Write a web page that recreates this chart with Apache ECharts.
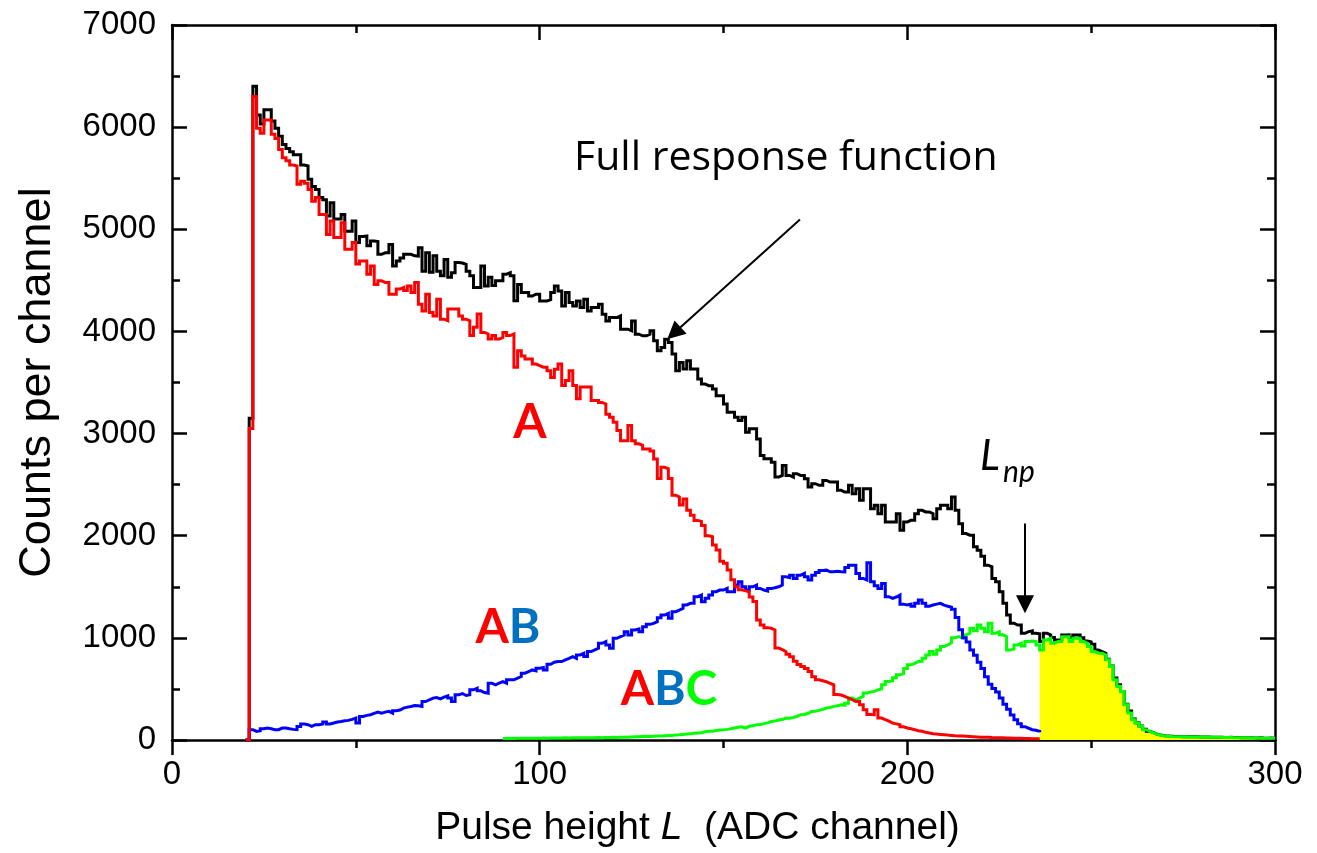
<!DOCTYPE html>
<html>
<head>
<meta charset="utf-8">
<script src="https://cdn.jsdelivr.net/npm/echarts/dist/echarts.min.js"></script>
<style>
  html, body { margin: 0; padding: 0; background: #fff; }
  #chart { width: 1317px; height: 853px; }
</style>
</head>
<body>
<div id="chart"></div>
<script>
// Pulse-height spectra, one count value per ADC channel.
// Full response and its A / AB components start at channel 20.
const firstChannel = 20;

const fullResponse = [
  0, 3150, 6400, 6120, 6030, 6170, 6170, 6060, 5990, 5910,
  5830, 5790, 5760, 5730, 5730, 5630, 5620, 5490, 5420, 5390,
  5310, 5290, 5130, 5260, 5100, 5100, 5145, 4980, 4980, 5080,
  4870, 4930, 4935, 4840, 4885, 4880, 4755, 4770, 4770, 4850,
  4640, 4690, 4720, 4755, 4755, 4740, 4738, 4820, 4590, 4770,
  4580, 4740, 4590, 4545, 4705, 4530, 4575, 4675, 4670, 4657,
  4590, 4545, 4430, 4430, 4640, 4445, 4530, 4450, 4495, 4495,
  4560, 4575, 4545, 4300, 4460, 4380, 4380, 4347, 4364, 4364,
  4299, 4299, 4310, 4380, 4445, 4396, 4250, 4380, 4282, 4250,
  4299, 4234, 4315, 4201, 4234, 4234, 4266, 4168, 4103, 4136,
  4136, 4152, 4022, 4022, 4006, 4103, 3973, 3957, 3957, 3973,
  4006, 3908, 3811, 3843, 3924, 3892, 3778, 3615, 3697, 3632,
  3713, 3632, 3632, 3534, 3485, 3469, 3469, 3436, 3371, 3371,
  3290, 3208, 3208, 3160, 3127, 3160, 3013, 3046, 3046, 2948,
  2786, 2753, 2753, 2720, 2574, 2590, 2688, 2590, 2574, 2607,
  2590, 2590, 2558, 2476, 2509, 2493, 2493, 2541, 2525, 2525,
  2525, 2444, 2428, 2428, 2493, 2411, 2460, 2346, 2460, 2460,
  2265, 2298, 2216, 2298, 2135, 2135, 2135, 2216, 2053, 2135,
  2151, 2151, 2216, 2249, 2233, 2233, 2216, 2167, 2265, 2298,
  2298, 2265, 2379, 2249, 2118, 2021, 2005, 2005, 1891, 1858,
  1800, 1712, 1696, 1582, 1549, 1452, 1338, 1224, 1143, 1126,
  1126, 1045, 1061, 1068, 1045, 1040, 964, 1045, 1029, 1003,
  980, 980, 1029, 1030, 1000, 1029, 1029, 1000, 970, 960,
  938, 880, 866, 850, 790, 725, 606, 541, 476, 350,
  285, 205, 170, 138, 105, 85, 72, 56, 48, 42,
  38, 36, 34, 35, 33, 34, 32, 31, 32, 30,
  29, 30, 28, 27, 28, 26, 25, 26, 24, 25,
  23, 22, 23, 21, 20, 21, 19, 18, 19, 17
];

const countsA = [
  0, 3050, 6300, 5990, 5940, 6070, 6070, 5930, 5890, 5780,
  5700, 5670, 5630, 5620, 5440, 5470, 5450, 5390, 5275, 5310,
  5145, 5145, 4950, 5080, 4920, 4920, 5065, 4805, 4805, 4870,
  4660, 4690, 4690, 4560, 4640, 4460, 4495, 4480, 4480, 4365,
  4365, 4415, 4430, 4400, 4445, 4380, 4480, 4265, 4200, 4365,
  4185, 4150, 4315, 4120, 4105, 4220, 4220, 4220, 4150, 4120,
  4105, 3960, 4040, 4170, 3990, 3975, 3925, 3960, 3925, 3940,
  3990, 3960, 3975, 3650, 3810, 3760, 3730, 3730, 3680, 3665,
  3650, 3650, 3615, 3550, 3630, 3680, 3470, 3520, 3615, 3470,
  3340, 3455, 3455, 3455, 3325, 3325, 3305, 3290, 3190, 3160,
  3110, 3030, 2930, 2930, 3080, 2930, 2900, 2885, 2850, 2850,
  2830, 2750, 2560, 2670, 2655, 2560, 2395, 2380, 2300, 2360,
  2250, 2200, 2150, 2140, 2100, 2000, 1990, 1910, 1860, 1750,
  1730, 1665, 1570, 1500, 1470, 1460, 1450, 1400, 1355, 1175,
  1125, 1100, 1094, 1078, 900, 885, 866, 840, 815, 770,
  740, 720, 700, 670, 620, 590, 580, 570, 555, 540,
  445, 440, 427, 411, 395, 378, 378, 345, 297, 250,
  248, 297, 215, 200, 185, 166, 158, 150, 130, 118,
  110, 101, 90, 85, 75, 69, 62, 58, 55, 52,
  48, 45, 42, 40, 38, 36, 34, 32, 30, 28,
  27, 26, 24, 23, 22, 21, 20, 19, 18, 17,
  16, 15, 14, 13, 12, 12, 11
];

const countsAB = [
  0, 101, 84, 90, 110, 117, 110, 101, 101, 117,
  117, 110, 104, 101, 133, 156, 150, 133, 150, 150,
  156, 176, 156, 166, 176, 182, 189, 192, 202, 215,
  166, 231, 241, 247, 260, 273, 263, 273, 280, 263,
  286, 293, 312, 322, 328, 338, 335, 328, 377, 394,
  410, 416, 403, 420, 433, 410, 377, 442, 455, 436,
  442, 491, 507, 481, 465, 459, 556, 540, 556, 572,
  556, 589, 589, 605, 621, 654, 670, 686, 677, 703,
  709, 686, 742, 761, 768, 768, 784, 800, 817, 800,
  833, 849, 817, 866, 882, 898, 947, 963, 931, 898,
  996, 1012, 1028, 1061, 1028, 1077, 1087, 1061, 1109, 1132,
  1142, 1158, 1197, 1223, 1240, 1191, 1256, 1272,
  1289, 1322, 1338, 1338, 1403, 1419, 1354, 1387, 1419, 1452,
  1468, 1468, 1484, 1452, 1452, 1517, 1549, 1500, 1468, 1500,
  1517, 1484, 1468, 1458, 1484, 1490, 1500, 1517, 1598, 1590,
  1614, 1582, 1614, 1631, 1598, 1566, 1614, 1640, 1660, 1663,
  1647, 1647, 1653, 1647, 1645, 1690, 1712, 1712, 1631, 1582,
  1566, 1735, 1549, 1510, 1484, 1533, 1403, 1387, 1400, 1419,
  1330, 1322, 1330, 1310, 1340, 1370, 1338, 1310, 1322, 1330,
  1338, 1321, 1310, 1300, 1280, 1200, 1080, 1000, 960, 880,
  830, 760, 700, 620, 545, 505, 470, 410, 350, 300,
  245, 199, 160, 130, 115, 101, 95, 85, 75
];

// ABC component begins at channel 90
const firstChannelABC = 90;
const countsABC = [
  15, 16, 15, 16, 17, 16, 17, 18, 17, 18,
  19, 18, 19, 20, 19, 20, 21, 20, 21, 22,
  21, 22, 23, 22, 23, 24, 23, 24, 25, 26,
  25, 27, 28, 27, 30, 32, 31, 34, 36, 35,
  37, 40, 38, 42, 45, 44, 50, 52, 55, 58,
  62, 66, 69, 72, 80, 85, 86, 92, 98, 100,
  104, 110, 118, 124, 130, 117, 134, 140, 150, 152,
  160, 168, 182, 185, 196, 200, 215, 214, 220, 232,
  248, 250, 262, 280, 282, 290, 300, 313, 318, 329,
  335, 345, 340, 360, 410, 394, 410, 427, 459, 470,
  476, 491, 500, 541, 573, 580, 610, 638, 650, 700,
  736, 750, 768, 770, 800, 833, 866, 840, 882, 915,
  931, 950, 1000, 1012, 1000, 1029, 1045, 1094, 1070, 1126,
  1094, 1061, 1143, 1045, 1060, 1030, 1012, 882, 890, 931,
  947, 920, 964, 970, 964, 931, 882, 980, 996, 947,
  964, 964, 1012, 1012, 964, 996, 996, 964, 947, 915,
  866, 850, 850, 833, 785, 720, 589, 525, 476, 345,
  264, 199, 166, 134, 101, 85, 69, 55, 46, 40,
  36, 34, 33, 33, 32, 32, 30, 30, 30, 29,
  28, 28, 27, 26, 27, 25, 24, 25, 23, 23,
  22, 21, 22, 20, 19, 20, 18, 17, 18, 16
];

// Channel from which the ABC response is shaded (L_np)
const shadeFromChannel = 236;

const xTicks = [0, 100, 200, 300];
const yTicks = [0, 1000, 2000, 3000, 4000, 5000, 6000, 7000];

// Turn per-channel counts into [channel, count] points for a step line.
// closeLastBin adds the right edge of the final channel.
function toBins(first, counts, closeLastBin) {
  const pts = counts.map((c, i) => [first + i, c]);
  if (closeLastBin) pts.push([first + counts.length, counts[counts.length - 1]]);
  return pts;
}

const FONT = '"Liberation Sans", Arial, sans-serif';
const ANNOT_FONT = '"Open Sans", Lato, sans-serif';
const BOLD_FONT = 'Lato, "Open Sans", sans-serif';
const axisLine = { show: true, onZero: false, lineStyle: { color: '#000', width: 2.5 } };
const tickStyle = { color: '#000', width: 2.5 };

function xAxisDef(pos) {
  const bottom = pos === 'bottom';
  return {
    type: 'value', position: pos, min: xTicks[0], max: xTicks[xTicks.length - 1],
    interval: xTicks[1] - xTicks[0],
    axisLine,
    axisTick: { show: true, inside: !bottom, length: 15, lineStyle: tickStyle },
    minorTick: { show: true, splitNumber: 2, length: 8, lineStyle: tickStyle },
    splitLine: { show: false }, minorSplitLine: { show: false },
    axisLabel: { show: bottom, color: '#000', fontFamily: FONT, fontSize: 33, margin: 18,
                 formatter: v => String(v) },
    name: bottom ? '{t|Pulse height }{i|L}{t|  (ADC channel)}' : '',
    nameLocation: 'middle', nameGap: 69,
    nameTextStyle: {
      padding: [0, 52, 0, 0],
      rich: {
        t: { fontFamily: FONT, fontSize: 39, color: '#000' },
        i: { fontFamily: FONT, fontSize: 39, color: '#000', fontStyle: 'italic' }
      }
    }
  };
}

function yAxisDef(pos) {
  const left = pos === 'left';
  return {
    type: 'value', position: pos, min: yTicks[0], max: yTicks[yTicks.length - 1],
    interval: yTicks[1] - yTicks[0],
    axisLine,
    axisTick: { show: true, inside: true, length: 15, lineStyle: tickStyle },
    minorTick: { show: true, splitNumber: 2, length: 8, lineStyle: tickStyle },
    splitLine: { show: false }, minorSplitLine: { show: false },
    axisLabel: { show: left, color: '#000', fontFamily: FONT, fontSize: 33, margin: 16,
                 formatter: v => String(v) },
    name: left ? 'Counts per channel' : '',
    nameLocation: 'middle', nameGap: 112,
    nameTextStyle: { fontFamily: FONT, fontSize: 45, color: '#000' }
  };
}

const lineBase = {
  type: 'line', step: 'end', showSymbol: false, symbol: 'none', silent: true,
  xAxisIndex: 0, yAxisIndex: 0, emphasis: { disabled: true }
};
const stroke = color => ({ color, width: 3, cap: 'butt', join: 'miter' });

const chart = echarts.init(document.getElementById('chart'), null, { renderer: 'canvas' });

chart.setOption({
  animation: false,
  backgroundColor: '#fff',
  grid: { left: 172, right: 42, top: 25, bottom: 111, containLabel: false },
  xAxis: [xAxisDef('bottom'), xAxisDef('top')],
  yAxis: [yAxisDef('left'), yAxisDef('right')],
  series: [
    {
      ...lineBase, name: 'shaded', z: 1,
      data: toBins(shadeFromChannel, countsABC.slice(shadeFromChannel - firstChannelABC), true),
      lineStyle: { width: 0, opacity: 0 },
      areaStyle: { color: '#ffff00', opacity: 1 }
    },
    {
      ...lineBase, name: 'Full response', z: 2,
      data: toBins(firstChannel, fullResponse, true),
      lineStyle: stroke('#000000'),
      markLine: {
        silent: true, animation: false,
        symbol: ['none', 'triangle'], symbolSize: 18,
        lineStyle: { color: '#000', width: 2, type: 'solid' },
        label: { show: false }, emphasis: { disabled: true },
        data: [
          [{ coord: [170.8, 5096] }, { coord: [136.5, 3983] }],
          [{ coord: [232, 2119] }, { coord: [232, 1328] }]
        ]
      }
    },
    { ...lineBase, name: 'ABC', z: 3, data: toBins(firstChannelABC, countsABC, true), lineStyle: stroke('#00ff00') },
    { ...lineBase, name: 'AB', z: 4, data: toBins(firstChannel, countsAB, false), lineStyle: stroke('#0000ff') },
    { ...lineBase, name: 'A', z: 5, data: toBins(firstChannel, countsA, false), lineStyle: stroke('#ff0000') }
  ],
  graphic: [
    { type: 'text', x: 574, y: 158, silent: true,
      style: { text: 'Full response function', fill: '#000', fontFamily: ANNOT_FONT, fontSize: 41,
               textAlign: 'left', textVerticalAlign: 'middle' } },
    { type: 'text', x: 530, y: 423, silent: true,
      style: { text: 'A', fill: '#ff0000', fontFamily: BOLD_FONT, fontSize: 48, fontWeight: 'bold',
               textAlign: 'center', textVerticalAlign: 'middle' } },
    { type: 'text', x: 508, y: 628, silent: true,
      style: { text: '{a|A}{b|B}', fontFamily: BOLD_FONT, fontSize: 48, fontWeight: 'bold',
               textAlign: 'center', textVerticalAlign: 'middle',
               rich: { a: { fill: '#ff0000', fontFamily: BOLD_FONT, fontSize: 48, fontWeight: 'bold' },
                       b: { fill: '#0070c0', fontFamily: BOLD_FONT, fontSize: 48, fontWeight: 'bold' } } } },
    { type: 'text', x: 669, y: 690, silent: true,
      style: { text: '{a|A}{b|B}{c|C}', fontFamily: BOLD_FONT, fontSize: 48, fontWeight: 'bold',
               textAlign: 'center', textVerticalAlign: 'middle',
               rich: { a: { fill: '#ff0000', fontFamily: BOLD_FONT, fontSize: 48, fontWeight: 'bold' },
                       b: { fill: '#0070c0', fontFamily: BOLD_FONT, fontSize: 48, fontWeight: 'bold' },
                       c: { fill: '#00ff00', fontFamily: BOLD_FONT, fontSize: 48, fontWeight: 'bold' } } } },
    { type: 'text', x: 980, y: 456, silent: true,
      style: { text: 'L', fill: '#000', fontFamily: BOLD_FONT, fontSize: 42, fontStyle: 'italic',
               textAlign: 'left', textVerticalAlign: 'middle' } },
    { type: 'text', x: 1003, y: 472, silent: true,
      style: { text: 'np', fill: '#000', fontFamily: BOLD_FONT, fontSize: 30, fontStyle: 'italic',
               textAlign: 'left', textVerticalAlign: 'middle' } }
  ]
});
</script>
</body>
</html>
